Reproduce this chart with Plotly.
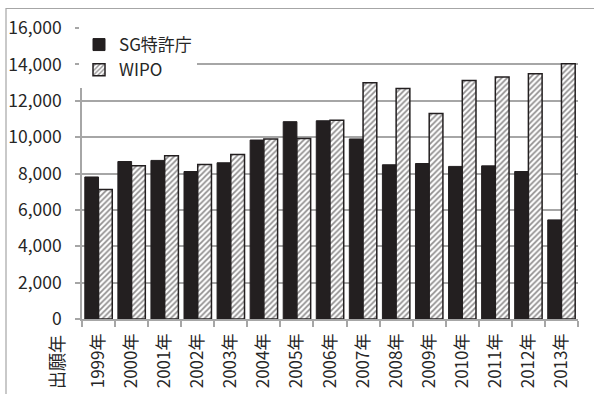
import plotly.graph_objects as go

# Patent applications per filing year
years = ["1999年", "2000年", "2001年", "2002年", "2003年", "2004年", "2005年",
         "2006年", "2007年", "2008年", "2009年", "2010年", "2011年", "2012年", "2013年"]
sg_office = [7810, 8660, 8720, 8110, 8590, 9840, 10850, 10900, 9900, 8480,
             8550, 8390, 8420, 8110, 5450]
wipo = [7120, 8420, 8970, 8500, 9050, 9900, 9930, 10930, 12990, 12680,
        11300, 13120, 13300, 13490, 14040]
y_ticks = [0, 2000, 4000, 6000, 8000, 10000, 12000, 14000, 16000]

FONT = "Noto Sans CJK JP"
INK = "#231f20"
TEXT = "#262626"
GRID = "#a6a6a6"
W, H = 594, 394
L, R, T, B = 82, 16, 28, 75
PW, PH = W - L - R, H - T - B


def px_x(x):
    return (x - L) / PW


def px_y(y):
    return (H - B - y) / PH


fig = go.Figure()
fig.add_trace(go.Bar(
    x=years, y=sg_office, name="SG特許庁",
    marker=dict(color=INK, line=dict(color=INK, width=1)),
))
fig.add_trace(go.Bar(
    x=years, y=wipo, name="WIPO",
    marker=dict(
        color="white",
        line=dict(color=INK, width=1.5),
        pattern=dict(shape="/", fgcolor=INK, bgcolor="white", size=4, solidity=0.45),
    ),
))

fig.update_layout(
    width=W, height=H,
    margin=dict(l=L, r=R, t=T, b=B, autoexpand=False),
    paper_bgcolor="white", plot_bgcolor="white",
    barmode="group", bargap=0.17, bargroupgap=0,
    font=dict(family=FONT, color=TEXT),
    showlegend=True,
    legend=dict(
        x=px_x(79), y=px_y(27), xanchor="left", yanchor="top",
        bgcolor="white", borderwidth=0,
        font=dict(family=FONT, size=17, color=TEXT),
        tracegroupgap=0, itemwidth=30,
    ),
    xaxis=dict(
        type="category", showline=True, linecolor=GRID, linewidth=1.5,
        ticks="outside", ticklen=6, tickcolor=GRID, tickwidth=1.5,
        tickson="boundaries", tickangle=-90, ticklabelstandoff=6,
        tickfont=dict(family=FONT, size=17, color=TEXT),
        showgrid=False, automargin=False,
    ),
    yaxis=dict(
        range=[0, 16000], tickvals=y_ticks, tickformat=",d",
        showline=True, linecolor=GRID, linewidth=1.5,
        ticks="outside", ticklen=5, tickcolor=GRID, tickwidth=1.5,
        showgrid=True, gridcolor=GRID, gridwidth=1.5,
        ticklabelstandoff=10, automargin=False,
        tickfont=dict(family=FONT, size=17.5, color=TEXT),
        zeroline=False,
    ),
    shapes=[
        dict(type="rect", xref="paper", yref="paper",
             x0=px_x(6), x1=px_x(W + 20), y0=px_y(H + 20), y1=px_y(8.5),
             line=dict(color=GRID, width=1.2), fillcolor="rgba(0,0,0,0)", layer="below"),
    ],
    annotations=[
        dict(text="出願年", textangle=-90, xref="paper", yref="paper",
             x=px_x(56), y=px_y(333), xanchor="center", yanchor="top",
             showarrow=False, font=dict(family=FONT, size=18, color=TEXT)),
    ],
)

fig.write_html("out.html")
